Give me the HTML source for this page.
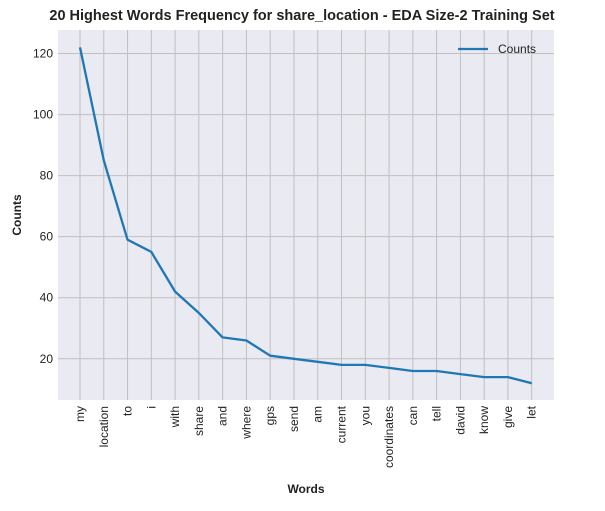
<!DOCTYPE html>
<html><head><meta charset="utf-8"><style>
body{margin:0;background:#fff;font-family:"Liberation Sans",Arial,sans-serif}
svg text{font-family:"Liberation Sans",Arial,sans-serif}
</style></head><body>
<svg id="c" width="605" height="506" xmlns="http://www.w3.org/2000/svg">
<rect x="0" y="0" width="605" height="506" fill="#fff"/>
<rect x="58" y="30" width="496" height="370" fill="#eaeaf2"/>
<g id="grid"></g>
<g id="ticks"></g>
<path id="line" fill="none" stroke="#1f77b4" stroke-width="2.3" stroke-linejoin="round"/>
<text x="302" y="20" text-anchor="middle" font-size="14.5" font-weight="bold" fill="#222">20 Highest Words Frequency for share_location - EDA Size-2 Training Set</text>
<text x="306" y="493" text-anchor="middle" font-size="12" font-weight="bold" fill="#222">Words</text>
<text transform="translate(21,215) rotate(-90)" text-anchor="middle" font-size="12" font-weight="bold" fill="#222">Counts</text>
<g>
<line x1="458" y1="49" x2="488" y2="49" stroke="#1f77b4" stroke-width="2.3"/>
<text x="498" y="53" font-size="12" fill="#222">Counts</text>
</g>
</svg>
<script>
const categories=["my","location","to","i","with","share","and","where","gps","send","am","current","you","coordinates","can","tell","david","know","give","let"];
const counts=[122,85,59,55,42,35,27,26,21,20,19,18,18,17,16,16,15,14,14,12];
const yTicks=[20,40,60,80,100,120];
const NS="http://www.w3.org/2000/svg";
const L=58,R=554,T=30,B=400;
const yMin=6.5,yMax=127.7;
const x0=80,x1=531.7;
function xs(i){return x0+(x1-x0)*i/(categories.length-1);}
function ys(v){return B-(v-yMin)/(yMax-yMin)*(B-T);}
const grid=document.getElementById('grid'),ticks=document.getElementById('ticks');
yTicks.forEach(v=>{
 const l=document.createElementNS(NS,'line');
 l.setAttribute('x1',L);l.setAttribute('x2',R);l.setAttribute('y1',ys(v));l.setAttribute('y2',ys(v));
 l.setAttribute('stroke','#c0c0c0');l.setAttribute('stroke-width','1');
 
 
 grid.appendChild(l);
 const t=document.createElementNS(NS,'text');
 t.setAttribute('x',L-5);t.setAttribute('y',ys(v)+4);t.setAttribute('text-anchor','end');
 t.setAttribute('font-size','12');t.setAttribute('fill','#222');t.textContent=v;
 
 
 ticks.appendChild(t);
});
categories.forEach((c,i)=>{
 const x=xs(i);
 const l=document.createElementNS(NS,'line');
 l.setAttribute('x1',x);l.setAttribute('x2',x);l.setAttribute('y1',T);l.setAttribute('y2',B);
 l.setAttribute('stroke','#c0c0c0');l.setAttribute('stroke-width','1');
 
 
 grid.appendChild(l);
 const t=document.createElementNS(NS,'text');
 t.setAttribute('transform','translate('+(x+4)+','+(B+6)+') rotate(-90)');
 t.setAttribute('text-anchor','end');t.setAttribute('font-size','12');t.setAttribute('fill','#222');
 t.textContent=c;
 
 
 ticks.appendChild(t);
});
document.getElementById('line').setAttribute('d',counts.map((v,i)=>(i?'L':'M')+xs(i).toFixed(1)+' '+ys(v).toFixed(1)).join(' '));
</script>
</body></html>
